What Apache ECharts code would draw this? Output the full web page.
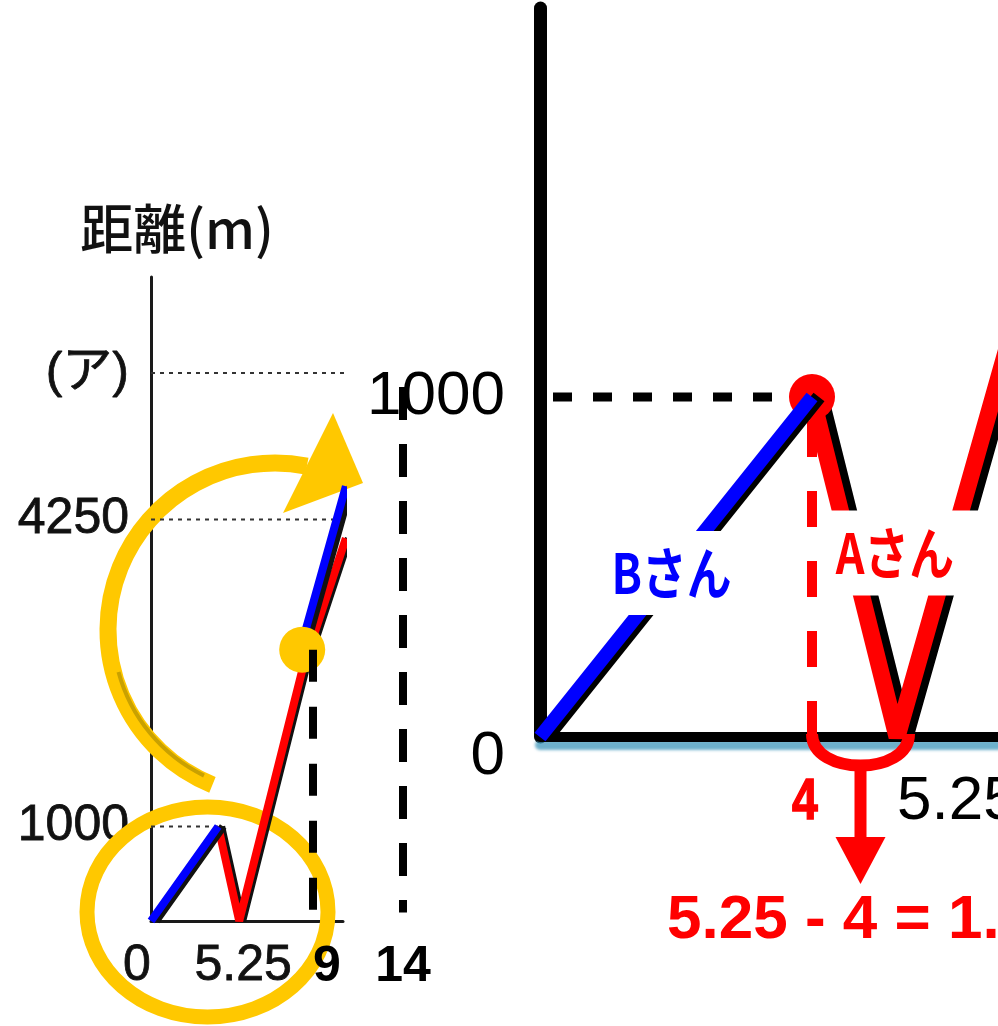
<!DOCTYPE html>
<html>
<head>
<meta charset="utf-8">
<script src="https://cdn.jsdelivr.net/npm/echarts@6/dist/echarts.min.js"></script>
<style>
html, body { margin: 0; padding: 0; background: #fff; overflow: hidden; }
#chart { width: 998px; height: 1026px; }
</style>
</head>
<body>
<div id="chart"></div>
<script>
// Elapsed time (min) and distance from home (m)
const aTime = [4, 5.25, 9, 11.6];
const aDist = [1000, 0, 2650, 4050];
const bTime = [0, 4, null, 9, 11.6];
const bDist = [0, 1000, null, 2950, 4600];

// Point where A catches up with B
const meetTime = 9;
const meetDist = 2870;

// Tick labels of the overall graph
const unknownDist = 5800;               // height marked (ア)
const leftYTicks = [1000, 4250, unknownDist];
const leftXTicks = [0, 5.25];
const reach4250 = 11.06;                // time at which 4250 m is reached

// Vertical guides at 9 and 14 minutes
const guideTimes = [9, 14];
const guideTops = [meetDist, 5650];
const guideBottom = 90;

// Tick labels of the enlarged part
const zoomYTicks = [0, 1000];
const zoomXTicks = [5.25];

const RED = '#FF0000', BLUE = '#0000FF', GOLD = '#FFC800';
const SANS = "'Liberation Sans', Arial, 'Noto Sans CJK JP', sans-serif";
const JP = "'Noto Sans CJK JP', 'Liberation Sans', sans-serif";

function pts(xs, ys) {
  return xs.map((x, i) => (x === null ? ['-', '-'] : [x, ys[i]]));
}

const leftXMax = 192 / 16.8;
const leftYMax = 644 / 0.0945;
const zoomXMax = 458 / 68;
const zoomYMax = 729 / 0.34;

const chart = echarts.init(document.getElementById('chart'));

const gridBase = { containLabel: false, outerBoundsMode: 'none' };

const option = {
  animation: false,
  backgroundColor: '#fff',
  grid: [
    Object.assign({ left: 151, top: 277, width: 192, height: 644 }, gridBase),
    Object.assign({ left: 151, top: 277, width: 270, height: 644 }, gridBase),
    Object.assign({ left: 540, top: 8, width: 458, height: 729 }, gridBase)
  ],
  xAxis: [
    {
      gridIndex: 0, type: 'value', min: 0, max: leftXMax,
      axisLine: { show: true, lineStyle: { color: '#1a1a1a', width: 3 } },
      axisTick: { show: false }, splitLine: { show: false },
      axisLabel: {
        customValues: leftXTicks, margin: 20,
        fontSize: 50, fontFamily: SANS, color: '#111',
        textBorderColor: '#111', textBorderWidth: 0.8,
        formatter: v => (v === 0 ? '{o|0}' : '{n|' + v + '}'),
        rich: { o: { padding: [0, 28, 0, 0] }, n: { padding: [0, 0, 0, 8] } }
      }
    },
    {
      gridIndex: 1, type: 'value', min: 0, max: 15, z: 4,
      axisLine: { show: false }, axisTick: { show: false }, splitLine: { show: false },
      axisLabel: {
        customValues: guideTimes, margin: 21,
        fontSize: 50, fontWeight: 'bold', fontFamily: SANS, color: '#000',
        formatter: v => (v === 9 ? '{p|9}' : String(v)),
        rich: { p: { padding: [0, 0, 0, 28] } }
      }
    },
    {
      gridIndex: 2, type: 'value', min: 0, max: zoomXMax,
      axisLine: {
        show: true,
        lineStyle: { color: '#000', width: 10, shadowColor: 'rgba(60,150,185,0.75)', shadowOffsetY: 8, shadowBlur: 3 }
      },
      axisTick: { show: false }, splitLine: { show: false },
      axisLabel: {
        customValues: zoomXTicks, margin: 34, align: 'left',
        fontSize: 62, fontFamily: SANS, color: '#000'
      }
    }
  ],
  yAxis: [
    {
      gridIndex: 0, type: 'value', min: 0, max: leftYMax,
      name: '距離(m)', nameLocation: 'end', nameGap: 22,
      nameTextStyle: { fontSize: 53, fontFamily: JP, fontWeight: 500, color: '#111', padding: [0, 0, 0, 52] },
      axisLine: { show: true, lineStyle: { color: '#1a1a1a', width: 3 } },
      axisTick: { show: false }, splitLine: { show: false },
      axisLabel: {
        customValues: leftYTicks, margin: 22,
        fontSize: 50, fontFamily: SANS, color: '#111',
        textBorderColor: '#111', textBorderWidth: 0.8,
        formatter: v => (v === unknownDist ? '(ア)' : String(v))
      }
    },
    { gridIndex: 1, type: 'value', min: 0, max: leftYMax, show: false },
    {
      gridIndex: 2, type: 'value', min: 0, max: zoomYMax,
      axisLine: { show: true, lineStyle: { color: '#000', width: 13 } },
      axisTick: { show: false }, splitLine: { show: false },
      axisLabel: {
        customValues: zoomYTicks, margin: 35,
        fontSize: 62, fontFamily: SANS, color: '#000',
        formatter: v => (v === 0 ? '{z|0}' : String(v)),
        rich: { z: { padding: [40, 0, 0, 0] } }
      }
    }
  ],
  series: [
    // overall graph
    {
      type: 'line', xAxisIndex: 0, yAxisIndex: 0, z: 2, symbol: 'none', silent: true,
      data: [[0, 1000], [aTime[0], 1000], ['-', '-'], [0, 4250], [reach4250, 4250], ['-', '-'], [0, unknownDist], [12, unknownDist]],
      lineStyle: { color: '#333', width: 2, type: [4, 5] }
    },
    {
      name: 'A', type: 'line', xAxisIndex: 0, yAxisIndex: 0, z: 3, symbol: 'none',
      data: pts(aTime, aDist),
      lineStyle: { color: RED, width: 8, shadowColor: '#111', shadowOffsetX: 3 }
    },
    {
      name: 'B', type: 'line', xAxisIndex: 0, yAxisIndex: 0, z: 4, symbol: 'none',
      data: pts(bTime, bDist),
      lineStyle: { color: BLUE, width: 8, shadowColor: '#111', shadowOffsetX: 5 }
    },
    {
      type: 'scatter', xAxisIndex: 0, yAxisIndex: 0, z: 5, symbolSize: 46,
      data: [[meetTime, meetDist]], itemStyle: { color: GOLD, opacity: 1 }
    },
    // guides at 9 and 14 minutes
    {
      type: 'line', xAxisIndex: 1, yAxisIndex: 1, z: 6, symbol: 'none', clip: false,
      data: [[guideTimes[0], guideTops[0]], [guideTimes[0], guideBottom]],
      lineStyle: { color: '#000', width: 8, type: [32, 25] }
    },
    {
      type: 'line', xAxisIndex: 1, yAxisIndex: 1, z: 6, symbol: 'none', clip: false,
      data: [[guideTimes[1], guideTops[1]], [guideTimes[1], guideBottom]],
      lineStyle: { color: '#000', width: 8, type: [33, 24] }
    },
    // enlarged part
    {
      type: 'line', xAxisIndex: 2, yAxisIndex: 2, z: 2, symbol: 'none',
      data: [[aTime[0], 0], [aTime[0], aDist[0]]],
      lineStyle: { color: RED, width: 10, type: [36, 34] }
    },
    {
      type: 'line', xAxisIndex: 2, yAxisIndex: 2, z: 2, symbol: 'none',
      data: [[0, aDist[0]], [aTime[0], aDist[0]]],
      lineStyle: { color: '#000', width: 9, type: [19, 21], dashOffset: 27 }
    },
    {
      name: 'A', type: 'line', xAxisIndex: 2, yAxisIndex: 2, z: 3, symbol: 'none',
      data: pts(aTime, aDist),
      lineStyle: { color: RED, width: 17, shadowColor: '#000', shadowOffsetX: 8 }
    },
    {
      type: 'scatter', xAxisIndex: 2, yAxisIndex: 2, z: 4, symbolSize: 46,
      data: [[aTime[0], aDist[0]]], itemStyle: { color: RED, opacity: 1 }
    },
    {
      name: 'B', type: 'line', xAxisIndex: 2, yAxisIndex: 2, z: 5, symbol: 'none',
      data: pts(bTime, bDist),
      lineStyle: { color: BLUE, width: 14, shadowColor: '#000', shadowOffsetX: 7 }
    }
  ]
};

chart.setOption(option);

// Callouts drawn on top of the plots
const deg = Math.PI / 180;
const p4 = chart.convertToPixel({ gridIndex: 2 }, [aTime[0], 0]);
const p525 = chart.convertToPixel({ gridIndex: 2 }, [aTime[1], 0]);
const yTop = p4[1] - 3;
const L = p4[0], R = p525[0] + 12, cx = (L + R) / 2;

chart.setOption({
  graphic: [
    // gold ring around the start of the graph
    { type: 'ellipse', z: 1, silent: true,
      shape: { cx: 207.5, cy: 912, rx: 120.5, ry: 105 },
      style: { fill: null, stroke: GOLD, lineWidth: 15 } },
    // gold curved arrow pointing to the enlarged part
    { type: 'arc', z: 1, silent: true,
      shape: { cx: 275, cy: 630, r: 167, startAngle: 112 * deg, endAngle: 281 * deg, clockwise: true },
      style: { fill: null, stroke: GOLD, lineWidth: 17 } },
    { type: 'arc', z: 1, silent: true,
      shape: { cx: 275, cy: 630, r: 162, startAngle: 116 * deg, endAngle: 165 * deg, clockwise: true },
      style: { fill: null, stroke: '#C9A100', lineWidth: 4 } },
    { type: 'polygon', z: 1, silent: true,
      shape: { points: [[333, 413], [363, 483], [283, 513]] },
      style: { fill: GOLD } },

    // name tags
    { type: 'text', z: 20, x: 684, y: 573, scaleX: 0.8,
      style: { text: 'Bさん', x: 0, y: 0, align: 'center', verticalAlign: 'middle',
        fontSize: 56, fontWeight: 'bold', fontFamily: JP, fill: BLUE,
        backgroundColor: '#fff', padding: [16, 70, 12, 39] } },
    { type: 'text', z: 20, x: 898, y: 553, scaleX: 0.8,
      style: { text: 'Aさん', x: 0, y: 0, align: 'center', verticalAlign: 'middle',
        fontSize: 56, fontWeight: 'bold', fontFamily: JP, fill: RED,
        backgroundColor: '#fff', padding: [18, 31, 11, 23] } },

    // bracket from 4 to 5.25 and the arrow to the subtraction
    { type: 'bezierCurve', z: 20, silent: true,
      shape: { x1: L, y1: yTop, cpx1: L, cpy1: yTop + 42, cpx2: R, cpy2: yTop + 42, x2: R, y2: yTop },
      style: { fill: null, stroke: RED, lineWidth: 12 } },
    { type: 'line', z: 20, silent: true,
      shape: { x1: cx, y1: yTop + 30, x2: cx, y2: yTop + 106 },
      style: { stroke: RED, lineWidth: 12 } },
    { type: 'polygon', z: 20, silent: true,
      shape: { points: [[cx - 25, yTop + 103], [cx + 25, yTop + 103], [cx, yTop + 150]] },
      style: { fill: RED } },
    { type: 'text', z: 20, x: L - 7, y: 803, scaleX: 0.8,
      style: { text: String(aTime[0]), x: 0, y: 0, align: 'center', verticalAlign: 'middle',
        fontSize: 58, fontWeight: 'bold', fontFamily: SANS, fill: RED,
        textStroke: RED, stroke: RED, lineWidth: 1.5 } },
    { type: 'text', z: 20, x: 667, y: 921,
      style: { text: aTime[1] + ' - ' + aTime[0] + ' = ' + (aTime[1] - aTime[0]), x: 0, y: 0,
        align: 'left', verticalAlign: 'middle',
        fontSize: 62, fontWeight: 'bold', fontFamily: SANS, fill: RED } }
  ]
});
</script>
</body>
</html>
